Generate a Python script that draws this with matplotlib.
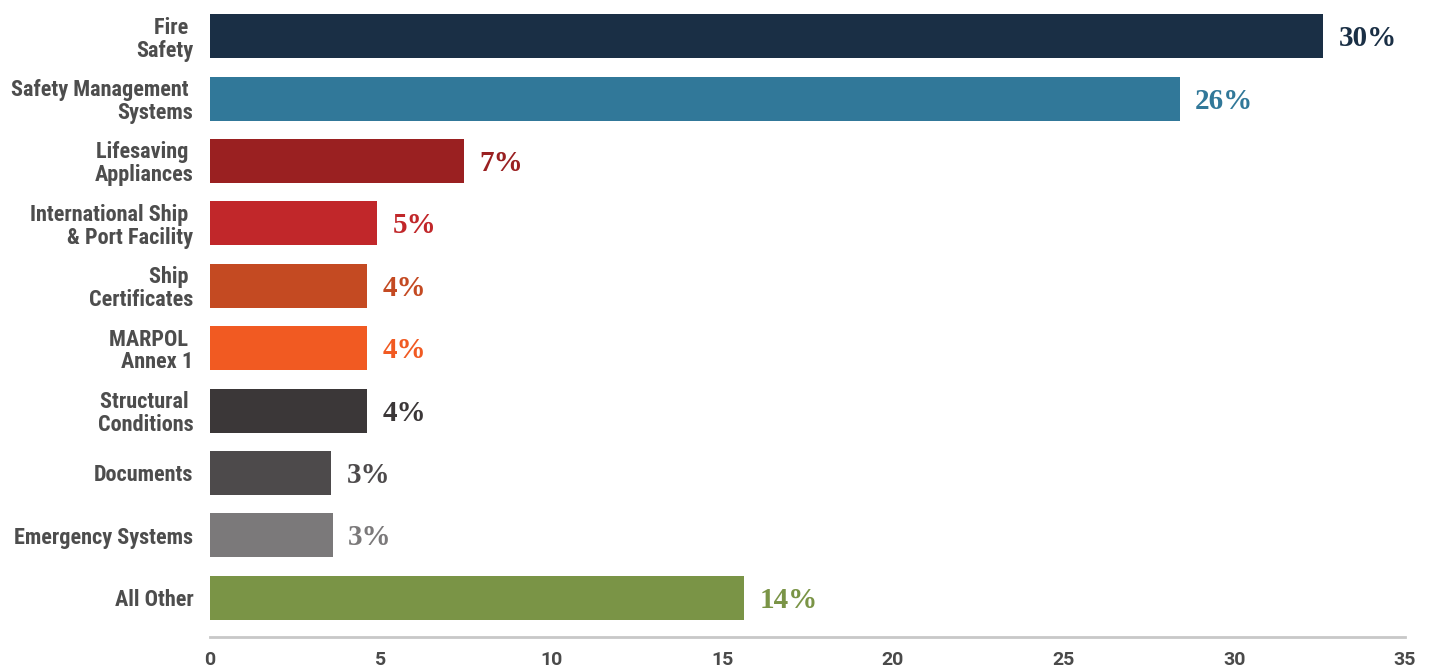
import matplotlib
matplotlib.use("Agg")
import matplotlib.pyplot as plt
from matplotlib import font_manager

categories = [
    "Fire \nSafety",
    "Safety Management \nSystems",
    "Lifesaving \nAppliances",
    "International Ship \n& Port Facility",
    "Ship \nCertificates",
    "MARPOL \nAnnex 1",
    "Structural \nConditions",
    "Documents",
    "Emergency Systems",
    "All Other",
]
values = [32.6, 28.4, 7.45, 4.9, 4.6, 4.6, 4.6, 3.55, 3.6, 15.65]
pct_labels = ["30%", "26%", "7%", "5%", "4%", "4%", "4%", "3%", "3%", "14%"]
colors = ["#1a2f45", "#317899", "#9a2021", "#c1272a", "#c44a22",
          "#f15a22", "#3b3738", "#4d4a4b", "#7b797a", "#7a9446"]
xticks = [0, 5, 10, 15, 20, 25, 30, 35]

available = {f.name for f in font_manager.fontManager.ttflist}
cond = next((n for n in ["Roboto Condensed", "Liberation Sans Narrow",
                         "Open Sans Condensed", "Roboto"] if n in available),
            "DejaVu Sans")

fig = plt.figure(figsize=(14.47, 6.71), dpi=100)
ax = fig.add_axes([210 / 1447, 1 - 637 / 671, (1405 - 210) / 1447, 637 / 671])

y = list(range(len(categories)))
ax.barh(y, values, height=0.705, color=colors)
ax.set_ylim(9.63, -0.58)
ax.set_xlim(0, 35)

for yi, v, lab, c in zip(y, values, pct_labels, colors):
    ax.text(v + 0.45, yi + 0.04, lab, va="center", ha="left", color=c,
            fontsize=21, fontweight="bold", family="Liberation Serif")

ax.set_yticks(y)
ax.set_yticklabels(categories, fontsize=16, fontweight="bold", family=cond,
                   color="#4d4d4d", linespacing=1.05)
ax.tick_params(axis="y", length=0, pad=12)

ax.set_xticks(xticks)
ax.set_xticklabels([str(t) for t in xticks], fontsize=14, fontweight="bold",
                   family="Roboto", color="#4a4a4a")
ax.tick_params(axis="x", length=0, pad=10)

for s in ["top", "right", "left"]:
    ax.spines[s].set_visible(False)
ax.spines["bottom"].set_color("#c8c8c8")
ax.spines["bottom"].set_linewidth(2)

fig.savefig("out.png", dpi=100, facecolor="white")
